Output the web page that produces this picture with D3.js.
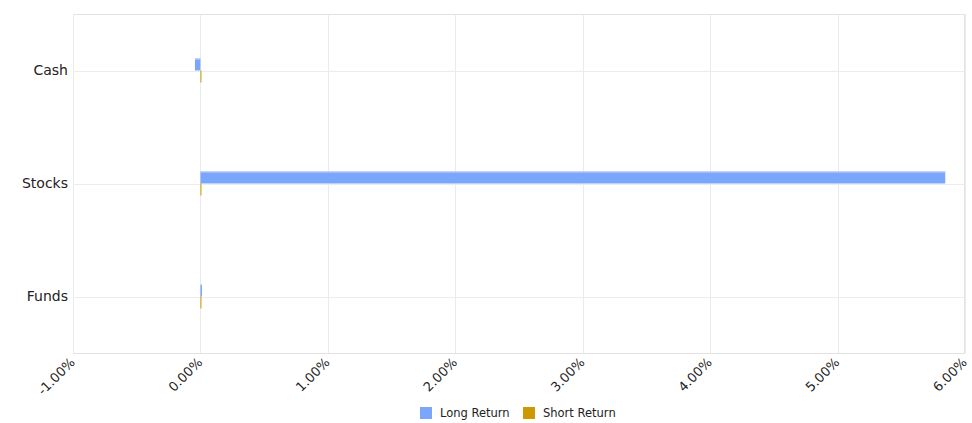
<!DOCTYPE html>
<html><head><meta charset="utf-8">
<script src="https://cdn.jsdelivr.net/npm/d3@7"></script>
<style>body{margin:0;background:#fff}svg{display:block;font-family:"DejaVu Sans",sans-serif}</style>
</head><body><div id="c"></div>
<script>
const categories = ["Cash", "Stocks", "Funds"];
const seriesNames = ["Long Return", "Short Return"];
const longReturn = [-0.043, 5.845, 0.012];
const shortReturn = [0.006, 0.003, 0.004];
const xTicks = [-1, 0, 1, 2, 3, 4, 5, 6];
const colors = ["#7aa7fb", "#cc9900"];

const W = 972, H = 423;
const m = {left: 73, right: 7, top: 14, bottom: 70};
const svg = d3.select("#c").append("svg").attr("width", W).attr("height", H);

const x = d3.scaleLinear().domain([-1, 6]).range([m.left, W - m.right]);
const y = d3.scaleBand().domain(categories).range([m.top, H - m.bottom]);
const ySub = d3.scaleBand().domain(seriesNames).range([-12, 12]);

const g = svg.append("g");
g.append("rect").attr("x", m.left + 0.5).attr("y", m.top + 0.5)
  .attr("width", W - m.right - m.left - 1).attr("height", H - m.bottom - m.top)
  .attr("fill", "none").attr("stroke", "#e3e3e3");
g.selectAll(".vg").data(xTicks).join("line")
  .attr("x1", d => Math.round(x(d)) + 0.5).attr("x2", d => Math.round(x(d)) + 0.5)
  .attr("y1", m.top).attr("y2", H - m.bottom)
  .attr("stroke", "#ebebeb");
g.selectAll(".hg").data(categories).join("line")
  .attr("x1", m.left).attr("x2", W - m.right)
  .attr("y1", d => Math.round(y(d) + y.bandwidth() / 2) + 0.5)
  .attr("y2", d => Math.round(y(d) + y.bandwidth() / 2) + 0.5)
  .attr("stroke", "#ececec");

const data = [];
categories.forEach((c, i) => {
  data.push({c, s: seriesNames[0], v: longReturn[i], col: colors[0]});
  data.push({c, s: seriesNames[1], v: shortReturn[i], col: colors[1]});
});
g.selectAll(".bar").data(data).join("rect")
  .attr("x", d => Math.min(x(0), x(d.v)))
  .attr("width", d => Math.max(1, Math.abs(x(d.v) - x(0))))
  .attr("y", d => y(d.c) + y.bandwidth() / 2 + ySub(d.s))
  .attr("height", ySub.bandwidth())
  .attr("fill", d => d.col);
g.selectAll(".bart").data(data.filter(d => d.s === seriesNames[0])).join("line")
  .attr("x1", d => Math.min(x(0), x(d.v))).attr("x2", d => Math.max(x(0), x(d.v)))
  .attr("y1", d => y(d.c) + y.bandwidth() / 2 + ySub(d.s) + 0.5)
  .attr("y2", d => y(d.c) + y.bandwidth() / 2 + ySub(d.s) + 0.5)
  .attr("stroke", "#c6d3f2");

svg.append("g").attr("transform", `translate(${m.left - 5},0)`)
  .call(d3.axisLeft(y).tickSize(0).tickPadding(0))
  .call(a => a.select(".domain").remove())
  .selectAll("text").attr("font-size", 14).attr("fill", "#222")
  .attr("font-family", "DejaVu Sans, sans-serif");

const fmt = d => d3.format(".2f")(d).replace("\u2212", "-") + "%";
const xa = svg.append("g").attr("transform", `translate(0,${H - m.bottom})`)
  .call(d3.axisBottom(x).tickValues(xTicks).tickFormat(fmt).tickSize(0));
xa.select(".domain").remove();
xa.selectAll("text").attr("font-size", 13).attr("fill", "#222")
  .attr("font-family", "DejaVu Sans, sans-serif")
  .attr("text-anchor", "end").attr("y", 0).attr("x", 0).attr("dy", "0.35em")
  .attr("transform", "translate(-1,7) rotate(-45)");

const lg = svg.append("g").attr("transform", "translate(420,407)");
const items = [{n: seriesNames[0], c: colors[0], x: 0}, {n: seriesNames[1], c: colors[1], x: 103}];
items.forEach(it => {
  lg.append("rect").attr("x", it.x).attr("y", 0).attr("width", 12).attr("height", 12).attr("fill", it.c);
  lg.append("text").attr("x", it.x + 20).attr("y", 10).attr("font-size", 11.5).attr("fill", "#222").text(it.n);
});
</script></body></html>
